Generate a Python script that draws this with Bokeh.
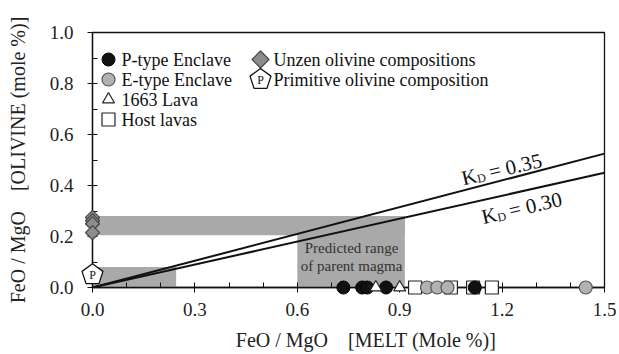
import math
from bokeh.plotting import figure
from bokeh.models import (FixedTicker, NumeralTickFormatter, Range1d, Label)
from bokeh.core.properties import value
from bokeh.embed import file_html
from bokeh.resources import INLINE

# ---------------- data ----------------
p_type_x = [0.735, 0.79, 0.805, 0.86, 1.12]
e_type_x = [0.98, 1.01, 1.04, 1.445]
lava1663_x = [0.83, 0.90]
host_x = [0.945, 1.05, 1.115, 1.17]
unzen_y = [0.275, 0.262, 0.25, 0.215]
primitive_y = [0.05]
kd_values = [0.35, 0.30]
kd_texts = ["0.35", "0.30"]
legend_labels = ["P-type Enclave", "E-type Enclave", "1663 Lava", "Host lavas",
                 "Unzen olivine compositions", "Primitive olivine composition"]
x_title = "FeO / MgO\u00a0\u00a0\u00a0\u00a0[MELT (Mole %)]"
y_title = "FeO / MgO\u00a0\u00a0\u00a0\u00a0[OLIVINE (mole %)]"
# shaded ranges
band_left = [0.0, 0.6, 0.0]
band_right = [0.915, 0.915, 0.245]
band_bottom = [0.205, 0.0, 0.0]
band_top = [0.28, 0.28, 0.08]
x_ticks = [0.0, 0.3, 0.6, 0.9, 1.2, 1.5]
y_ticks = [0.0, 0.2, 0.4, 0.6, 0.8, 1.0]
x_minor = [0.1, 0.2, 0.4, 0.5, 0.7, 0.8, 1.0, 1.1, 1.3, 1.4]
y_minor = [0.1, 0.3, 0.5, 0.7, 0.9]

FONT = "'Liberation Serif', 'Times New Roman', serif"
FW, FH = 512, 255

p = figure(frame_width=FW, frame_height=FH,
           x_range=Range1d(x_ticks[0], x_ticks[-1]),
           y_range=Range1d(y_ticks[0], y_ticks[-1]),
           output_backend="svg", toolbar_location=None,
           min_border_left=92, min_border_right=15,
           min_border_top=32, min_border_bottom=67,
           background_fill_color="white", border_fill_color="white")
p.extra_x_ranges = {"px": Range1d(0, FW)}
p.extra_y_ranges = {"px": Range1d(0, FH)}
p.xgrid.visible = False
p.ygrid.visible = False
p.outline_line_color = "#111111"
p.outline_line_width = 1.3

p.xaxis.ticker = FixedTicker(ticks=x_ticks, minor_ticks=x_minor)
p.yaxis.ticker = FixedTicker(ticks=y_ticks, minor_ticks=y_minor)
for ax in (p.xaxis[0], p.yaxis[0]):
    ax.formatter = NumeralTickFormatter(format="0.0")
    ax.major_tick_in = 5
    ax.major_tick_out = 5
    ax.minor_tick_in = 5
    ax.minor_tick_out = 0
    ax.axis_line_color = "#111111"
    ax.axis_line_width = 1.3
    ax.major_tick_line_color = "#111111"
    ax.minor_tick_line_color = "#111111"
    ax.major_label_text_font = FONT
    ax.major_label_text_font_size = "19px"
    ax.major_label_text_color = "#222222"
    ax.axis_label_text_font = FONT
    ax.axis_label_text_font_style = "normal"
    ax.axis_label_text_font_size = "20px"
    ax.axis_label_text_color = "#222222"
p.xaxis.major_label_standoff = 10
p.yaxis.major_label_standoff = 14
# leading spaces shift the centred title to the right, as in the original
p.xaxis.axis_label = "\u00a0" * 7 + x_title
p.yaxis.axis_label = y_title
p.xaxis.axis_label_standoff = 10
p.yaxis.axis_label_standoff = 18

# shaded ranges
p.quad(left=band_left, right=band_right, bottom=band_bottom, top=band_top,
       fill_color="#a9a9a9", line_color=None, level="underlay")

# KD lines
for kd in kd_values:
    p.line(x=[x_ticks[0], x_ticks[-1]], y=[kd * x_ticks[0], kd * x_ticks[-1]],
           line_color="#111111", line_width=2)

zeros = lambda n: [0.0] * n

STY = {
    "host": dict(marker="square", size=13, fill_color="white", line_color="#222222", line_width=1.2),
    "etype": dict(marker="circle", size=13, fill_color="#b2b2b2", line_color="#555555", line_width=1.2),
    "ptype": dict(marker="circle", size=13, fill_color="#111111", line_color="#000000", line_width=1),
    "lava": dict(marker="triangle", size=12, fill_color="white", line_color="#222222", line_width=1.2),
    "unzen": dict(marker="square", angle=math.pi / 4, size=10, fill_color="#8c8c8c",
                  line_color="#444444", line_width=1.2),
}
p.scatter(host_x, zeros(len(host_x)), level="overlay", **STY["host"])
p.scatter(e_type_x, zeros(len(e_type_x)), level="overlay", **STY["etype"])
p.scatter(p_type_x, zeros(len(p_type_x)), level="overlay", **STY["ptype"])
p.scatter(lava1663_x, zeros(len(lava1663_x)), level="overlay", **STY["lava"])
p.scatter(zeros(len(unzen_y)), unzen_y, level="overlay", **STY["unzen"])

PENT = dict(radius=11, radius_units="screen", n=5, angle=0.0, fill_color="white",
            line_color="#111111", line_width=1.3)
p.ngon(x=zeros(len(primitive_y)), y=primitive_y, level="overlay", **PENT)
p.text(x=zeros(len(primitive_y)), y=primitive_y, text=["P"] * len(primitive_y),
       text_align="center", text_baseline="middle", text_font=value(FONT),
       text_font_size="12px", text_color="#111111", level="overlay")

# legend (keys placed in frame pixels)
col_x = [16, 168]
row_y = [228, 208, 188, 168]
keys = [("ptype", 0, 0), ("etype", 0, 1), ("lava", 0, 2), ("host", 0, 3), ("unzen", 1, 0), ("pent", 1, 1)]
for (k, c, r), lab in zip(keys, legend_labels):
    kx, ky = col_x[c], row_y[r]
    if k == "pent":
        p.ngon(x=[kx], y=[ky], x_range_name="px", y_range_name="px", level="overlay", **PENT)
        p.text(x=[kx], y=[ky], text=["P"], x_range_name="px", y_range_name="px",
               text_align="center", text_baseline="middle", text_font=value(FONT),
               text_font_size="12px", text_color="#111111", level="overlay")
    else:
        sty = dict(STY[k])
        if k == "unzen":
            sty["size"] = 12
        p.scatter(x=[kx], y=[ky], x_range_name="px", y_range_name="px", level="overlay", **sty)
    p.add_layout(Label(x=kx + 13, y=ky, x_units="screen", y_units="screen", text=lab,
                       text_baseline="middle", text_font=FONT, text_font_size="18px",
                       text_color="#111111"))

# annotation in shaded box
p.add_layout(Label(x=0.759, y=0.153, text="Predicted range", text_align="center",
                   text_baseline="middle", text_font=FONT, text_font_size="15px",
                   text_color="#333333"))
p.add_layout(Label(x=0.759, y=0.086, text="of parent magma", text_align="center",
                   text_baseline="middle", text_font=FONT, text_font_size="15px",
                   text_color="#333333"))

# KD labels (K with subscript D)
ang = 0.23
ca, sa = math.cos(ang), math.sin(ang)
kd_label_pos = [(1.082, 0.427), (1.141, 0.275)]
for (lx, ly), txt in zip(kd_label_pos, kd_texts):
    p.add_layout(Label(x=lx, y=ly, text="K", angle=ang, text_font=FONT,
                       text_font_size="21px", text_baseline="alphabetic", text_color="#111111"))
    p.add_layout(Label(x=lx, y=ly, x_offset=15 * ca + 4 * sa, y_offset=15 * sa - 4 * ca,
                       text="D", angle=ang, text_font=FONT, text_font_size="12px",
                       text_baseline="alphabetic", text_color="#111111"))
    p.add_layout(Label(x=lx, y=ly, x_offset=28 * ca, y_offset=28 * sa,
                       text="= " + txt, angle=ang, text_font=FONT, text_font_size="21px",
                       text_baseline="alphabetic", text_color="#111111"))

open("out.html", "w").write(file_html(p, INLINE))
